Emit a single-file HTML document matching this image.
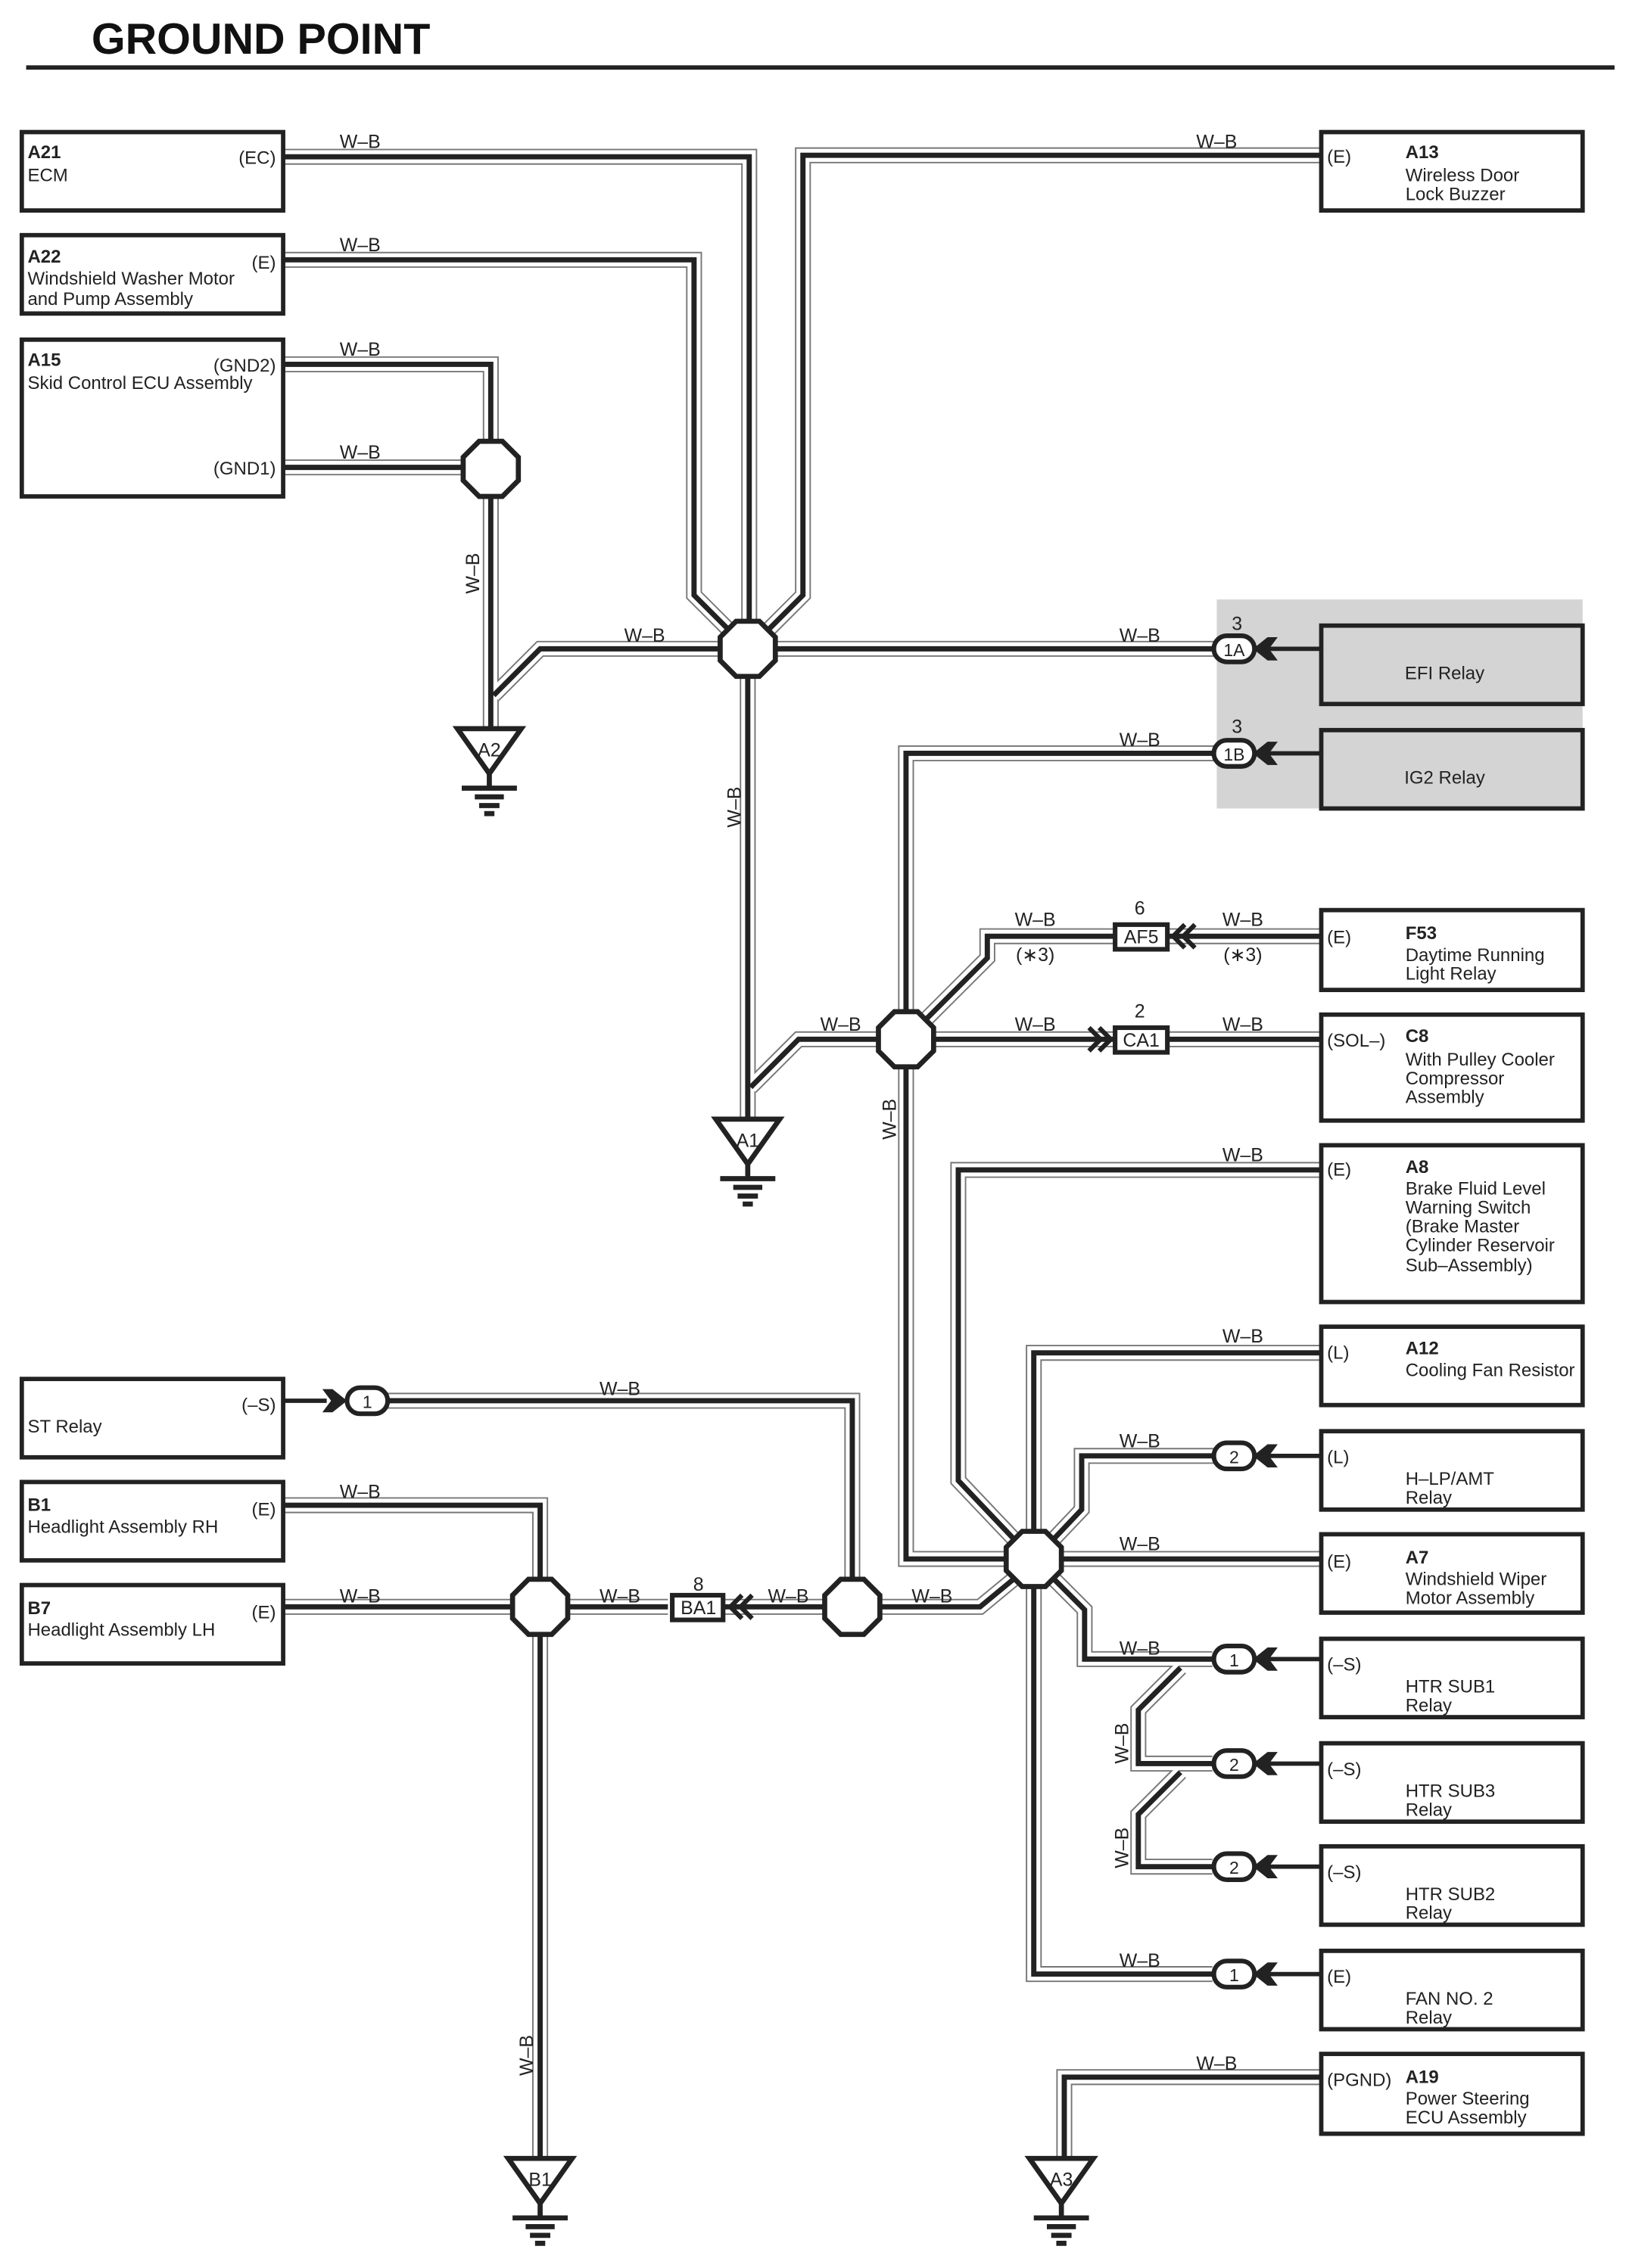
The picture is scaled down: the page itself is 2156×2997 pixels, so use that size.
<!DOCTYPE html>
<html><head><meta charset="utf-8"><style>
html,body{margin:0;padding:0;background:#fff;}
svg{display:block;}
text{font-family:"Liberation Sans",Arial,sans-serif;fill:#222;}
</style></head><body>
<svg width="2156" height="2997" viewBox="0 0 1124 1562.5" xmlns="http://www.w3.org/2000/svg">
<defs>
<g id="wires" fill="none">
<path d="M195 108 H516 V428"/>
<path d="M195 179 H478 V410 L502 434"/>
<path d="M910 107 H553 V410 L529 434"/>
<path d="M534 447 H838"/>
<path d="M496 447 H372 L340 479"/>
<path d="M195 251 H338 V305"/>
<path d="M195 322 H320"/>
<path d="M338 342 V502"/>
<path d="M515 466 V771"/>
<path d="M605 716 H550 L517 749"/>
<path d="M838 519 H624 V697"/>
<path d="M624 735 V1074 H693"/>
<path d="M643 716 H768"/>
<path d="M804 716 H910"/>
<path d="M637 703 L680 660 V645 H768"/>
<path d="M804 645 H910"/>
<path d="M910 806 H660 V1020 L698 1060"/>
<path d="M910 932 H712 V1055"/>
<path d="M838 1003 H745 V1040 L726 1060"/>
<path d="M731 1074 H910"/>
<path d="M726 1088 L747 1109 V1143 H835"/>
<path d="M813 1149 L784 1178 V1215 H835"/>
<path d="M813 1221 L784 1250 V1286 H835"/>
<path d="M712 1093 V1360 H835"/>
<path d="M910 1431 H733 V1487"/>
<path d="M267 965 H587 V1088"/>
<path d="M195 1037 H372 V1088"/>
<path d="M195 1107 H353"/>
<path d="M391 1107 H460"/>
<path d="M498 1107 H568"/>
<path d="M606 1107 H675 L698 1088"/>
<path d="M372 1126 V1487"/>
</g>
<polygon id="oct" points="-8,-19 8,-19 19,-8 19,8 8,19 -8,19 -19,8 -19,-8" fill="#fff" stroke="#222" stroke-width="3.5"/>
<g id="gnd" stroke="#222" stroke-width="3.5" fill="none">
<polygon points="-22,0 22,0 0,31" fill="#fff" stroke-linejoin="miter"/>
<path d="M0 31 V40 M-19 41 H19 M-10 47 H10 M-7 53 H7 M-3.5 58.5 H3.5"/>
</g>
<g id="arrL" fill="#222"><path d="M0 0 L10 -8 L17 -8 L11 0 L17 8 L10 8 Z"/></g>
</defs>

<text x="63" y="37" font-size="30" font-weight="bold" style="fill:#111">GROUND POINT</text>
<rect x="18" y="45" width="1094" height="3" fill="#222"/>

<rect x="838" y="413" width="252" height="144" fill="#d4d4d4"/>

<use href="#wires" stroke="#777" stroke-width="11" stroke-linejoin="miter"/>
<use href="#wires" stroke="#fff" stroke-width="9" stroke-linejoin="miter"/>
<use href="#wires" stroke="#222" stroke-width="3.6" stroke-linejoin="miter"/>

<use href="#oct" x="338" y="323"/>
<use href="#oct" x="515" y="447"/>
<use href="#oct" x="624" y="716"/>
<use href="#oct" x="712" y="1074"/>
<use href="#oct" x="372" y="1107"/>
<use href="#oct" x="587" y="1107"/>

<use href="#gnd" x="337" y="502"/><text x="337" y="521" font-size="13" text-anchor="middle">A2</text>
<use href="#gnd" x="515" y="771"/><text x="515" y="790" font-size="13" text-anchor="middle">A1</text>
<use href="#gnd" x="372" y="1487"/><text x="372" y="1506" font-size="13" text-anchor="middle">B1</text>
<use href="#gnd" x="731" y="1487"/><text x="731" y="1506" font-size="13" text-anchor="middle">A3</text>

<g fill="#fff" stroke="#222" stroke-width="3">
<rect x="15" y="91" width="180" height="54"/>
<rect x="15" y="162" width="180" height="54"/>
<rect x="15" y="234" width="180" height="108"/>
<rect x="15" y="950" width="180" height="54"/>
<rect x="15" y="1021" width="180" height="54"/>
<rect x="15" y="1092" width="180" height="54"/>
<rect x="910" y="91" width="180" height="54"/>
<rect x="910" y="431" width="180" height="54" fill="#d4d4d4"/>
<rect x="910" y="503" width="180" height="54" fill="#d4d4d4"/>
<rect x="910" y="627" width="180" height="55"/>
<rect x="910" y="699" width="180" height="73"/>
<rect x="910" y="789" width="180" height="108"/>
<rect x="910" y="914" width="180" height="54"/>
<rect x="910" y="986" width="180" height="54"/>
<rect x="910" y="1057" width="180" height="54"/>
<rect x="910" y="1129" width="180" height="54"/>
<rect x="910" y="1201" width="180" height="54"/>
<rect x="910" y="1272" width="180" height="54"/>
<rect x="910" y="1344" width="180" height="54"/>
<rect x="910" y="1415" width="180" height="55"/>
</g>

<g stroke="#222" stroke-width="3">
<path d="M872 447 H910 M872 519 H910 M872 1003 H910 M872 1143 H910 M872 1215 H910 M872 1286 H910 M872 1360 H910 M195 965 H225"/>
</g>
<use href="#arrL" x="863" y="447"/>
<use href="#arrL" x="863" y="519"/>
<use href="#arrL" x="863" y="1003"/>
<use href="#arrL" x="863" y="1143"/>
<use href="#arrL" x="863" y="1215"/>
<use href="#arrL" x="863" y="1286"/>
<use href="#arrL" x="863" y="1360"/>
<g transform="translate(239,965) scale(-1,1)"><use href="#arrL"/></g>

<g fill="#fff" stroke="#222" stroke-width="3.2">
<rect x="836" y="438" width="28" height="18" rx="9"/>
<rect x="836" y="510" width="28" height="18" rx="9"/>
<rect x="836" y="994" width="28" height="18" rx="9"/>
<rect x="836" y="1134" width="28" height="18" rx="9"/>
<rect x="836" y="1206" width="28" height="18" rx="9"/>
<rect x="836" y="1277" width="28" height="18" rx="9"/>
<rect x="836" y="1351" width="28" height="18" rx="9"/>
<rect x="239" y="956" width="28" height="18" rx="9"/>
</g>
<g font-size="12" text-anchor="middle">
<text x="850" y="452">1A</text>
<text x="850" y="524">1B</text>
<text x="850" y="1008">2</text>
<text x="850" y="1148">1</text>
<text x="850" y="1220">2</text>
<text x="850" y="1291">2</text>
<text x="850" y="1365">1</text>
<text x="253" y="970">1</text>
</g>

<g fill="#fff" stroke="#222" stroke-width="3.2">
<rect x="768" y="637" width="36" height="17"/>
<rect x="768" y="708" width="36" height="17"/>
<rect x="463" y="1099" width="35" height="17"/>
</g>
<g fill="none" stroke="#222" stroke-width="3.2">
<path d="M816 637 L808 645 L816 653 M823 637 L815 645 L823 653"/>
<path d="M750 708 L758 716 L750 724 M757 708 L765 716 L757 724"/>
<path d="M511 1099 L503 1107 L511 1115 M518 1099 L510 1107 L518 1115"/>
</g>
<g font-size="13" text-anchor="middle">
<text x="786" y="650">AF5</text>
<text x="786" y="721">CA1</text>
<text x="481" y="1112">BA1</text>
<text x="852" y="434">3</text>
<text x="852" y="505">3</text>
<text x="785" y="630">6</text>
<text x="785" y="701">2</text>
<text x="481" y="1096">8</text>
</g>

<g font-size="13" text-anchor="middle">
<text x="248" y="102">W–B</text>
<text x="248" y="173">W–B</text>
<text x="248" y="245">W–B</text>
<text x="248" y="316">W–B</text>
<text x="838" y="102">W–B</text>
<text x="444" y="442">W–B</text>
<text x="785" y="442">W–B</text>
<text x="785" y="514">W–B</text>
<text x="713" y="638">W–B</text>
<text x="856" y="638">W–B</text>
<text x="713" y="662">(∗3)</text>
<text x="856" y="662">(∗3)</text>
<text x="579" y="710">W–B</text>
<text x="713" y="710">W–B</text>
<text x="856" y="710">W–B</text>
<text x="856" y="800">W–B</text>
<text x="856" y="925">W–B</text>
<text x="785" y="997">W–B</text>
<text x="785" y="1068">W–B</text>
<text x="785" y="1140">W–B</text>
<text x="785" y="1355">W–B</text>
<text x="838" y="1426">W–B</text>
<text x="427" y="961">W–B</text>
<text x="248" y="1032">W–B</text>
<text x="248" y="1104">W–B</text>
<text x="427" y="1104">W–B</text>
<text x="543" y="1104">W–B</text>
<text x="642" y="1104">W–B</text>
<text transform="translate(330,395) rotate(-90)">W–B</text>
<text transform="translate(510,556) rotate(-90)">W–B</text>
<text transform="translate(617,771) rotate(-90)">W–B</text>
<text transform="translate(777,1201) rotate(-90)">W–B</text>
<text transform="translate(777,1273) rotate(-90)">W–B</text>
<text transform="translate(367,1416) rotate(-90)">W–B</text>
</g>

<g font-size="12.5">
<text x="19" y="109" font-weight="bold">A21</text><text x="19" y="125">ECM</text>
<text x="190" y="113" text-anchor="end">(EC)</text>
<text x="19" y="181" font-weight="bold">A22</text><text x="19" y="196">Windshield Washer Motor</text><text x="19" y="210">and Pump Assembly</text>
<text x="190" y="185" text-anchor="end">(E)</text>
<text x="19" y="252" font-weight="bold">A15</text><text x="19" y="268">Skid Control ECU Assembly</text>
<text x="190" y="256" text-anchor="end">(GND2)</text>
<text x="190" y="327" text-anchor="end">(GND1)</text>
<text x="19" y="987">ST Relay</text>
<text x="190" y="972" text-anchor="end">(–S)</text>
<text x="19" y="1041" font-weight="bold">B1</text><text x="19" y="1056">Headlight Assembly RH</text>
<text x="190" y="1044" text-anchor="end">(E)</text>
<text x="19" y="1112" font-weight="bold">B7</text><text x="19" y="1127">Headlight Assembly LH</text>
<text x="190" y="1115" text-anchor="end">(E)</text>
</g>

<g font-size="12.5">
<text x="914" y="112">(E)</text>
<text x="968" y="109" font-weight="bold">A13</text><text x="968" y="125">Wireless Door</text><text x="968" y="138">Lock Buzzer</text>
<text x="995" y="468" text-anchor="middle">EFI Relay</text>
<text x="995" y="540" text-anchor="middle">IG2 Relay</text>
<text x="914" y="650">(E)</text>
<text x="968" y="647" font-weight="bold">F53</text><text x="968" y="662">Daytime Running</text><text x="968" y="675">Light Relay</text>
<text x="914" y="721">(SOL–)</text>
<text x="968" y="718" font-weight="bold">C8</text><text x="968" y="734">With Pulley Cooler</text><text x="968" y="747">Compressor</text><text x="968" y="760">Assembly</text>
<text x="914" y="810">(E)</text>
<text x="968" y="808" font-weight="bold">A8</text><text x="968" y="823">Brake Fluid Level</text><text x="968" y="836">Warning Switch</text><text x="968" y="849">(Brake Master</text><text x="968" y="862"> Cylinder Reservoir</text><text x="968" y="876"> Sub–Assembly)</text>
<text x="914" y="936">(L)</text>
<text x="968" y="933" font-weight="bold">A12</text><text x="968" y="948">Cooling Fan Resistor</text>
<text x="914" y="1008">(L)</text>
<text x="968" y="1023">H–LP/AMT</text><text x="968" y="1036">Relay</text>
<text x="914" y="1080">(E)</text>
<text x="968" y="1077" font-weight="bold">A7</text><text x="968" y="1092">Windshield Wiper</text><text x="968" y="1105">Motor Assembly</text>
<text x="914" y="1151">(–S)</text>
<text x="968" y="1166">HTR SUB1</text><text x="968" y="1179">Relay</text>
<text x="914" y="1223">(–S)</text>
<text x="968" y="1238">HTR SUB3</text><text x="968" y="1251">Relay</text>
<text x="914" y="1294">(–S)</text>
<text x="968" y="1309">HTR SUB2</text><text x="968" y="1322">Relay</text>
<text x="914" y="1366">(E)</text>
<text x="968" y="1381">FAN NO. 2</text><text x="968" y="1394">Relay</text>
<text x="914" y="1437">(PGND)</text>
<text x="968" y="1435" font-weight="bold">A19</text><text x="968" y="1450">Power Steering</text><text x="968" y="1463">ECU Assembly</text>
</g>
</svg>
</body></html>
